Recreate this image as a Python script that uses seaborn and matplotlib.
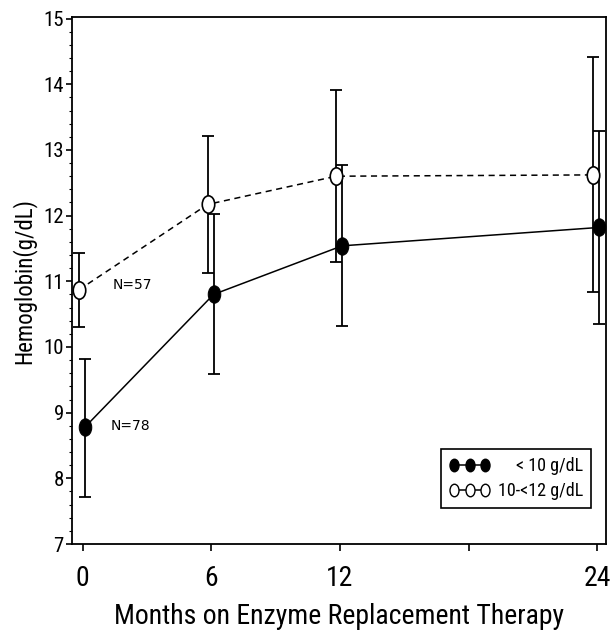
import numpy as np
import pandas as pd
import matplotlib
matplotlib.use("Agg")
import matplotlib.pyplot as plt
import seaborn as sns
from matplotlib.path import Path
from matplotlib.transforms import Affine2D
from matplotlib.lines import Line2D
from matplotlib.ticker import MultipleLocator, FixedLocator
from matplotlib.offsetbox import DrawingArea
from matplotlib import font_manager as fm

# ---- data ----
months = [0, 6, 12, 24]
month_labels = ["0", "6", "12", "", "24"]
month_ticks = [0, 6, 12, 18, 24]
groups = ["< 10 g/dL", "10-<12 g/dL"]
low_mean = [8.78, 10.80, 11.54, 11.82]
low_lower = [7.72, 9.59, 10.32, 10.35]
low_upper = [9.81, 12.03, 12.77, 13.29]
mid_mean = [10.87, 12.17, 12.60, 12.62]
mid_lower = [10.30, 11.13, 11.29, 10.83]
mid_upper = [11.43, 13.21, 13.92, 14.41]
n_labels = ["N=78", "N=57"]
yticks = [7, 8, 9, 10, 11, 12, 13, 14, 15]

sns.set_theme(style="ticks")
names = sorted({f.name for f in fm.fontManager.ttflist})
cands = ["Liberation Sans Narrow", "Roboto Condensed", "DejaVu Sans Condensed",
         "Open Sans Condensed", "Noto Sans Condensed"]
narrow = [c for c in cands if c in names]
FONT = narrow + ["DejaVu Sans"]
plt.rcParams["font.family"] = FONT
plt.rcParams["font.stretch"] = "condensed"
plt.rcParams["text.color"] = "black"
plt.rcParams["axes.labelcolor"] = "black"
plt.rcParams["xtick.color"] = "black"
plt.rcParams["ytick.color"] = "black"

df = pd.DataFrame({
    "month": months * 2,
    "hb": low_mean + mid_mean,
    "lo": low_lower + mid_lower,
    "hi": low_upper + mid_upper,
    "group": [groups[0]] * 4 + [groups[1]] * 4,
})
dodge = {groups[0]: 0.1, groups[1]: -0.18}
df["x"] = df["month"] + df["group"].map(dodge)

fig = plt.figure(figsize=(6.11, 6.4), dpi=100)
ax = fig.add_axes([0.118, 0.15, 0.874, 0.823])

ell = Path(Affine2D().scale(0.72, 1.0).transform(Path.unit_circle().vertices),
           Path.unit_circle().codes)

sns.lineplot(data=df, x="x", y="hb", style="group", hue="group",
             palette={groups[0]: "black", groups[1]: "black"},
             dashes={groups[0]: "", groups[1]: (4, 3)},
             markers={groups[0]: ell, groups[1]: ell},
             markersize=12.5, linewidth=1.1, legend=False, ax=ax, sort=False)

lines = ax.get_lines()
lines[0].set_markerfacecolor("black")
lines[0].set_markeredgecolor("black")
lines[1].set_markerfacecolor("white")
lines[1].set_markeredgecolor("black")
lines[1].set_markeredgewidth(1.2)
for ln in lines:
    ln.set_zorder(3)

for g in groups:
    sub = df[df["group"] == g]
    ax.errorbar(sub["x"], sub["hb"],
                yerr=[sub["hb"] - sub["lo"], sub["hi"] - sub["hb"]],
                fmt="none", ecolor="black", elinewidth=1.3, capsize=4.5,
                capthick=1.3, zorder=2)

ax.text(1.4, 10.95, n_labels[1], fontsize=10, family="DejaVu Sans",
        stretch="normal", va="center", ha="left")
ax.text(1.3, 8.8, n_labels[0], fontsize=10, family="DejaVu Sans",
        stretch="normal", va="center", ha="left")

ax.set_xlim(-0.5, 24.42)
ax.set_ylim(7, 15.02)
ax.xaxis.set_major_locator(FixedLocator(month_ticks))
ax.set_xticklabels(month_labels, fontsize=20)
ax.set_yticks(yticks)
ax.set_yticklabels([str(t) for t in yticks], fontsize=15)
ax.yaxis.set_minor_locator(MultipleLocator(0.2))
ax.tick_params(axis="y", which="major", length=4, width=1.2, pad=2)
ax.tick_params(axis="y", which="minor", length=2, width=0.8)
ax.tick_params(axis="x", which="major", length=5, width=1.2, pad=10)
for s in ax.spines.values():
    s.set_visible(True)
    s.set_linewidth(1.3)
    s.set_color("black")

ax.set_xlabel("Months on Enzyme Replacement Therapy", fontsize=20, labelpad=8)
ax.set_ylabel("Hemoglobin(g/dL)", fontsize=16.5, labelpad=5)

handles = [
    Line2D([0], [0], color="black", lw=1.1, marker=ell, markersize=9,
           markerfacecolor="black", markeredgecolor="black"),
    Line2D([0], [0], color="black", lw=1.1, marker=ell, markersize=9,
           markerfacecolor="white", markeredgecolor="black"),
]
LFS = 13
HTP = 0.4
leg = ax.legend(handles, groups, loc="lower right", bbox_to_anchor=(0.972, 0.068),
                fontsize=LFS, frameon=True, fancybox=False, numpoints=3,
                handlelength=2.3, handletextpad=HTP, borderpad=0.45,
                borderaxespad=0, labelspacing=0.4, markerfirst=True)
leg.get_frame().set_edgecolor("black")
leg.get_frame().set_linewidth(1.2)
leg.get_frame().set_alpha(1)

# right-align the legend labels (handles stay on the left)
fig.canvas.draw()
r = fig.canvas.get_renderer()
widths = [t.get_window_extent(r).width for t in leg.get_texts()]
maxw = max(widths)
rows = []
for col in leg._legend_handle_box.get_children():
    rows.extend(col.get_children())
for row, w in zip(rows, widths):
    pad_pt = (maxw - w) * 72.0 / fig.dpi
    if pad_pt > HTP * LFS:
        row.get_children().insert(1, DrawingArea(pad_pt - HTP * LFS, 1))

fig.savefig("out.png", dpi=100)
